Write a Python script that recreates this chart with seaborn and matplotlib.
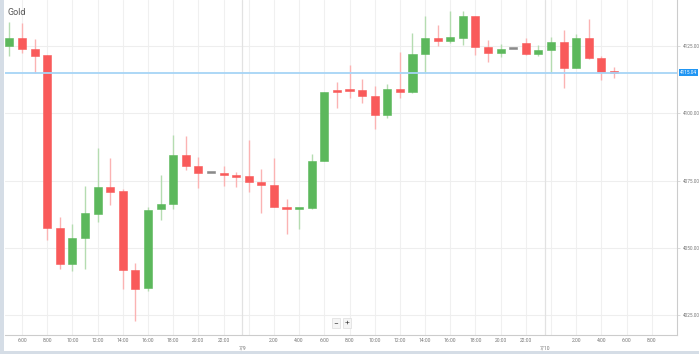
import matplotlib
matplotlib.use("Agg")
import matplotlib.pyplot as plt
import seaborn as sns
from matplotlib.patches import Rectangle

# hourly candles, hour counted from 7/8 0:00
hours = list(range(5, 54))
opens = [4125.1, 4127.9, 4123.8, 4121.5, 4057.3, 4043.9, 4053.8, 4062.6, 4072.7, 4071.3,
         4041.8, 4035.2, 4064.3, 4066.2, 4084.6, 4080.4, 4077.7, 4077.7, 4077.1, 4076.8,
         4074.6, 4073.4, 4065.3, 4064.4, 4064.7, 4082.3, 4108.3, 4108.7, 4108.7, 4106.4,
         4099.3, 4109.0, 4107.8, 4122.1, 4128.1, 4127.0, 4128.1, 4136.3, 4124.5, 4122.5,
         4123.8, 4126.0, 4122.0, 4123.5, 4126.6, 4116.9, 4127.9, 4120.4, 4115.5]
highs = [4134.0, 4133.7, 4127.5, 4121.5, 4061.6, 4058.9, 4073.1, 4087.0, 4083.3, 4072.0,
         4044.5, 4065.1, 4077.0, 4091.8, 4091.6, 4083.9, 4077.7, 4080.4, 4078.3, 4090.1,
         4079.2, 4083.3, 4068.1, 4064.9, 4084.8, 4108.0, 4111.5, 4117.9, 4112.6, 4110.3,
         4110.9, 4122.7, 4129.7, 4136.3, 4132.8, 4138.0, 4138.0, 4136.3, 4127.2, 4125.7,
         4123.8, 4127.9, 4125.4, 4128.5, 4131.0, 4129.3, 4134.9, 4121.3, 4117.3]
lows = [4121.4, 4122.3, 4114.9, 4052.9, 4042.0, 4041.2, 4042.3, 4059.5, 4065.9, 4034.6,
        4022.8, 4034.0, 4060.4, 4064.3, 4078.9, 4072.1, 4077.7, 4073.1, 4072.7, 4070.9,
        4063.1, 4065.3, 4055.1, 4057.0, 4064.3, 4082.3, 4101.9, 4105.6, 4103.7, 4094.2,
        4098.1, 4105.6, 4107.4, 4114.9, 4125.0, 4126.0, 4125.4, 4121.7, 4119.2, 4121.0,
        4123.8, 4121.7, 4121.4, 4114.9, 4109.3, 4116.7, 4120.1, 4112.4, 4113.2]
closes = [4127.9, 4123.8, 4121.3, 4057.3, 4043.9, 4053.6, 4062.9, 4072.7, 4070.9, 4041.7,
          4034.8, 4064.1, 4066.2, 4084.6, 4080.4, 4077.7, 4077.7, 4077.0, 4076.4, 4074.4,
          4073.3, 4065.3, 4064.4, 4064.9, 4082.3, 4108.0, 4107.9, 4108.3, 4106.4, 4099.4,
          4108.9, 4107.9, 4122.0, 4127.9, 4127.0, 4128.2, 4136.3, 4124.6, 4122.5, 4123.8,
          4123.8, 4121.9, 4123.5, 4126.4, 4116.9, 4127.9, 4120.4, 4115.5, 4114.9]
last_price = 4115.04
price_ticks = [4025, 4050, 4075, 4100, 4125]
day_labels = ["7/9", "7/10"]
day_breaks = [23.5, 47.5]

sns.set_style("white")
plt.rcParams["font.family"] = ["Roboto", "DejaVu Sans"]

up_col, down_col, flat_col = "#5cb85c", "#f95a5a", "#8a8a8a"
up_wick, down_wick = "#b5dcb1", "#fbb3b3"

fig = plt.figure(figsize=(6.99, 3.54), dpi=100)
ax = fig.add_axes([5 / 699, 19 / 354, 672 / 699, 335 / 354])

# grid
for h in range(6, 58, 2):
    ax.axvline(h, color="#f0f0f0", lw=0.8, zorder=0)
for p in price_ticks:
    ax.axhline(p, color="#eeeeee", lw=0.8, zorder=0)
for b in day_breaks:
    ax.axvline(b, color="#e2e2e2", lw=0.9, zorder=0)

# candles
for h, o, hi, lo, c in zip(hours, opens, highs, lows, closes):
    if c > o:
        col, wc = up_col, up_wick
    elif c < o:
        col, wc = down_col, down_wick
    else:
        col, wc = flat_col, flat_col
    if hi > lo:
        ax.vlines(h, lo, hi, color=wc, lw=1.0, zorder=2)
    body = max(abs(c - o), 0.7)
    ax.bar(h, body, bottom=min(o, c), width=0.64, color=col,
           edgecolor=col, linewidth=0.4, zorder=3)

ax.axhline(last_price, color="#a6d4f6", lw=1.3, zorder=4)

ax.set_xlim(4.65, 58.0)
ax.set_ylim(4017.6, 4142.1)

xt = [h for h in range(6, 58, 2) if h % 24 != 0]
ax.set_xticks(xt)
ax.set_xticklabels([f"{h % 24}:00" for h in xt], fontsize=3.6, color="#777777")
ax.yaxis.tick_right()
ax.set_yticks(price_ticks)
ax.set_yticklabels([f"{p:.2f}" for p in price_ticks], fontsize=3.4, color="#777777")
ax.tick_params(axis="x", length=0, pad=2)
ax.tick_params(axis="y", length=2, width=0.5, color="#cccccc", pad=2)
ax.set_xticks(day_breaks, minor=True)
ax.tick_params(axis="x", which="minor", length=3, width=0.6, color="#cccccc")

for s in ["left", "top"]:
    ax.spines[s].set_visible(False)
for s in ["right", "bottom"]:
    ax.spines[s].set_color("#cccccc")
    ax.spines[s].set_linewidth(0.8)

for b, lab in zip(day_breaks, day_labels):
    ax.text(b, -13 / 335, lab, transform=ax.get_xaxis_transform(), ha="center",
            va="center", fontsize=3.6, color="#777777")

ax.text(1.004, last_price, f"{last_price:.2f}", transform=ax.get_yaxis_transform(),
        ha="left", va="center", fontsize=3.4, color="white",
        bbox=dict(boxstyle="square,pad=0.25", fc="#2196f3", ec="none"))

ax.text(0.004, 0.975, "Gold", transform=ax.transAxes, ha="left", va="top",
        fontsize=6.5, color="#555555")

# zoom buttons
fig.text(336 / 699, 1 - 323 / 354, "\u2212", ha="center", va="center", fontsize=6,
         color="#444444", bbox=dict(boxstyle="square,pad=0.2", fc="#f5f5f5", ec="#dddddd", lw=0.5))
fig.text(347 / 699, 1 - 323 / 354, "+", ha="center", va="center", fontsize=6,
         color="#444444", bbox=dict(boxstyle="square,pad=0.2", fc="#f5f5f5", ec="#dddddd", lw=0.5))

# frame strips
fig.patches.append(Rectangle((0, 0), 4 / 699, 1, transform=fig.transFigure,
                             fc="#d5dde6", ec="none", zorder=0))
fig.patches.append(Rectangle((0, 0), 1, 3 / 354, transform=fig.transFigure,
                             fc="#d5dde6", ec="none", zorder=0))

fig.savefig("out.png", dpi=100)
